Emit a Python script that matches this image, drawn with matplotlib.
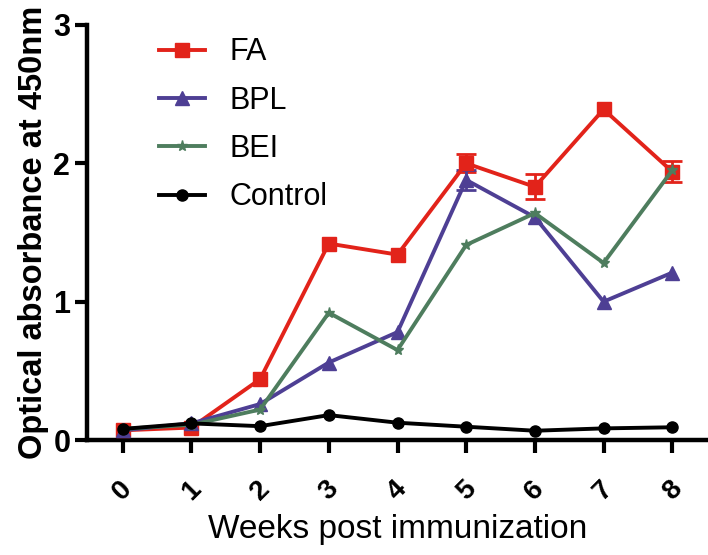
import matplotlib
matplotlib.use("Agg")
import matplotlib.pyplot as plt
import numpy as np

plt.rcParams['font.family'] = ['Liberation Sans', 'DejaVu Sans']

weeks = [0, 1, 2, 3, 4, 5, 6, 7, 8]
week_labels = ["0", "1", "2", "3", "4", "5", "6", "7", "8"]

fa = [0.07, 0.09, 0.44, 1.42, 1.34, 2.00, 1.83, 2.39, 1.94]
fa_err = [0, 0, 0, 0, 0, 0.065, 0.09, 0, 0.075]
bpl = [0.07, 0.12, 0.26, 0.56, 0.78, 1.88, 1.61, 1.00, 1.21]
bpl_err = [0, 0, 0, 0, 0, 0.07, 0, 0, 0]
bei = [0.08, 0.11, 0.22, 0.92, 0.65, 1.41, 1.64, 1.28, 1.95]
control = [0.08, 0.12, 0.10, 0.18, 0.125, 0.096, 0.067, 0.084, 0.092]

series_names = ["FA", "BPL", "BEI", "Control"]
colors = ["#e2231a", "#4e3f94", "#4e7d5e", "#000000"]
markers = ["s", "^", "*", "o"]
msizes = [10, 10, 8, 8]

fig = plt.figure(figsize=(7.08, 5.55), dpi=100)
ax = fig.add_axes([87/708, 1-440/555, 1-87/708, (440-25)/555])

data = [fa, bpl, bei, control]
errs = [fa_err, bpl_err, None, None]
handles = []
for vals, err, c, m, ms, name in zip(data, errs, colors, markers, msizes, series_names):
    x = np.array(weeks)
    y = np.array(vals)
    if err is not None:
        e = np.array(err)
        sel = e > 0
        ax.errorbar(x[sel], y[sel], yerr=e[sel], fmt='none', ecolor=c,
                    elinewidth=2.0, capsize=7, capthick=2.0, zorder=3)
    h, = ax.plot(x, y, color=c, marker=m, markersize=ms, linewidth=2.8,
                 markeredgecolor=c, label=name, zorder=4)
    handles.append(h)

ax.set_xlim(-0.52, 8.52)
ax.set_ylim(0, 3)
ax.set_yticks([0, 1, 2, 3])
ax.set_yticklabels(["0", "1", "2", "3"], fontsize=22, fontweight='bold')
ax.set_xticks(weeks)
ax.set_xticklabels(week_labels, fontsize=20, fontweight='bold', rotation=45,
                   rotation_mode='anchor', ha='center', va='center')
for lab in ax.get_xticklabels():
    lab.set_y(-0.08)

for s in ['top', 'right']:
    ax.spines[s].set_visible(False)
for s in ['left', 'bottom']:
    ax.spines[s].set_linewidth(3.2)
ax.tick_params(axis='both', width=3.0, length=9, direction='out')
ax.tick_params(axis='y', pad=3)

ax.set_xlabel("Weeks post immunization", fontsize=24, labelpad=6)
ax.set_ylabel("Optical absorbance at 450nm", fontsize=23.5, fontweight='bold', labelpad=3)

leg = ax.legend(handles=handles, loc='upper left', bbox_to_anchor=(0.097, 1.0),
                frameon=False, fontsize=22, handlelength=1.5, handletextpad=0.8,
                labelspacing=0.6, borderaxespad=0)

fig.savefig("out.png", dpi=100)
